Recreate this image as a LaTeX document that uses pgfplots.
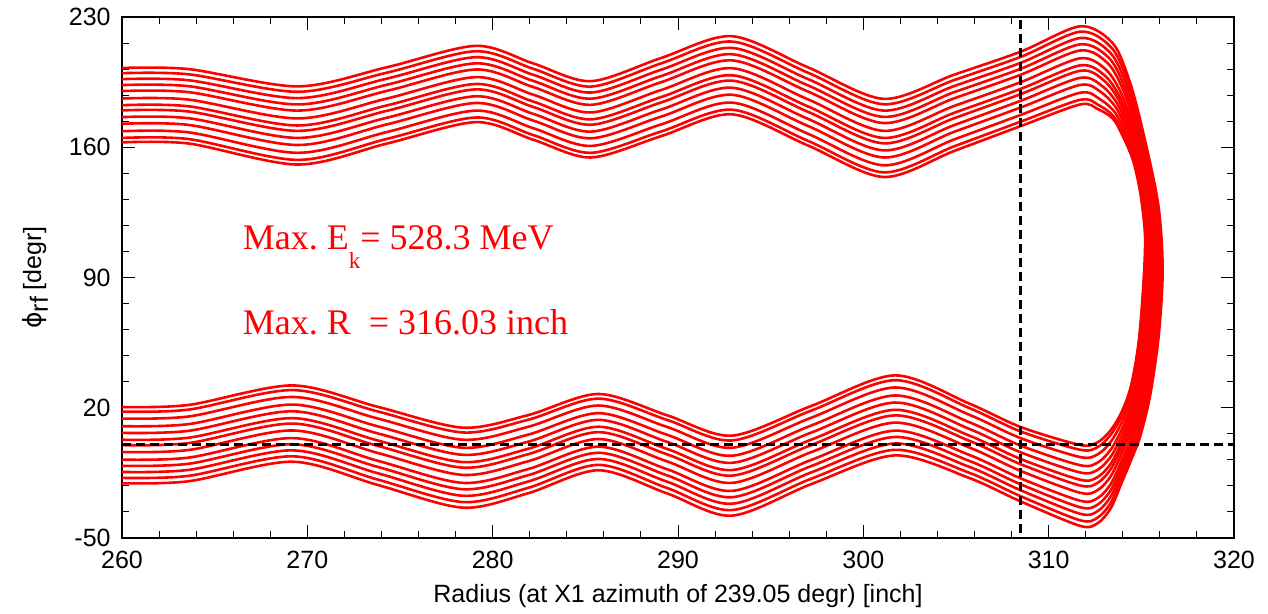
\documentclass[border=0pt]{standalone}
\usepackage{fontspec}
\setmainfont{Liberation Sans}
\newfontfamily\seriffont{Liberation Serif}
\newfontfamily\dejavu{DejaVu Sans}
\usepackage{pgfplots}
\pgfplotsset{compat=1.18}
\usetikzlibrary{calc}
\pgfplotsset{traj/.style={red, line width=1.3pt, smooth, tension=0.5, mark=none}}
\begin{document}
\begin{tikzpicture}
\begin{axis}[
  scale only axis, width=556pt, height=260.5pt,
  xmin=260, xmax=320, ymin=-50, ymax=230,
  xtick={260,270,...,320}, ytick={-50,20,90,160,230},
  minor x tick num=4, minor y tick num=4,
  tick align=inside, major tick length=6.3pt, minor tick length=3.5pt,
  tick style={black, line width=0.5pt},
  axis line style={line width=0.6pt},
  /pgf/number format/assume math mode=true,
  /pgf/number format/1000 sep={},
  ticklabel style={font=\fontsize{12.5}{14}\selectfont},
  xticklabel style={anchor=base, yshift=-15.5pt},
  yticklabel style={anchor=east, inner sep=0pt, xshift=-5.5pt},
  xlabel={Radius (at X1 azimuth of 239.05 degr) [inch]},
  ylabel={{\dejavu ϕ}\raisebox{-0.5ex}{rf} [degr]},
  label style={font=\fontsize{12.5}{14}\selectfont},
  xlabel style={at={(axis description cs:0.5,0)}, anchor=base, yshift=-32.5pt},
  ylabel style={at={(axis description cs:0,0.5)}, anchor=center, yshift=43.5pt},
]
% k=0 (innermost)
\addplot[traj] coordinates {(260,20.4)(263.6,21.5)(269.2,32)(273.8,20.5)(278.4,9.3)(281.9,16)(285.7,27.4)(289.4,16)(292.9,5)(297.2,21)(301.7,37.4)(305.7,22.3)(308.5,9.6)(311.7,0)
(312.65,1.5)(313.35,8)(313.95,18)(314.45,32)(314.85,55)(315.1,85)(315.2,112)(314.95,135)(314.55,153)(313.95,167)(313.45,175.5)(312.65,180.5)
(311.7,183)(308.5,171.4)(304.9,158)(301.1,144)(297.0,161)(292.9,177.7)(289.1,166)(285.3,154.5)(282.2,164)(279.1,173.5)(274.3,162)(269.5,150.7)(263.6,162)(260,162.6)};
% k=1
\addplot[traj] coordinates {(260,17.9)(263.6,19.0)(269.2,29.5)(273.8,18.0)(278.4,6.7)(281.9,13.5)(285.7,24.9)(289.4,13.5)(292.9,2.4)(297.2,18.5)(301.7,34.8)(305.7,19.9)(308.5,7.2)(311.7,-2.6)
(312.65,-1.1)(313.35,5.5)(313.95,15.7)(314.45,29.6)(314.86,52)(315.12,81.6)(315.25,108.9)(315.02,132.6)(314.63,151.6)(314.02,167.2)(313.5,176.7)(312.7,182.6)
(311.7,185.5)(308.5,173.8)(304.9,160.5)(301.1,146.5)(297.0,163.5)(292.9,180.2)(289.1,168.5)(285.3,157)(282.2,166.5)(279.1,176)(274.3,164.5)(269.5,153.2)(263.6,164.4)(260,165)};
% k=2
\addplot[traj] coordinates {(260,14.2)(263.6,15.3)(269.2,25.8)(273.8,14.2)(278.4,2.8)(281.9,9.7)(285.7,21.2)(289.4,9.7)(292.9,-1.5)(297.2,14.7)(301.7,30.9)(305.7,16.3)(308.5,3.6)(311.7,-6.5)
(312.65,-5)(313.35,1.7)(313.95,12.3)(314.45,26)(314.87,47.5)(315.16,76.4)(315.31,104.2)(315.13,129)(314.75,149.5)(314.12,167.5)(313.59,178.6)(312.77,185.8)
(311.7,189.3)(308.5,177.4)(304.9,164.2)(301.1,150.3)(297.0,167.3)(292.9,184)(289.1,172.3)(285.3,160.7)(282.2,170.2)(279.1,179.7)(274.3,168.2)(269.5,157)(263.6,168)(260,168.6)};
% k=3
\addplot[traj] coordinates {(260,10.1)(263.6,11.2)(269.2,21.7)(273.8,10.0)(278.4,-1.5)(281.9,5.5)(285.7,17.1)(289.4,5.5)(292.9,-5.8)(297.2,10.5)(301.7,26.6)(305.7,12.3)(308.5,-0.4)(311.7,-10.9)
(312.65,-9.4)(313.35,-2.5)(313.95,8.5)(314.45,22)(314.88,42.5)(315.2,70.7)(315.39,99)(315.25,125)(314.89,147.2)(314.23,167.8)(313.68,180.6)(312.85,189.4)
(311.7,193.5)(308.5,181.4)(304.9,168.3)(301.1,154.5)(297.0,171.5)(292.9,188.2)(289.1,176.5)(285.3,164.8)(282.2,174.3)(279.1,183.8)(274.3,172.3)(269.5,161.2)(263.6,172)(260,172.6)};
% k=4
\addplot[traj] coordinates {(260,6.5)(263.6,7.6)(269.2,18.1)(273.8,6.2)(278.4,-5.3)(281.9,1.7)(285.7,13.5)(289.4,1.7)(292.9,-9.6)(297.2,6.7)(301.7,22.8)(305.7,8.7)(308.5,-4)(311.7,-14.8)
(312.65,-13.3)(313.35,-6.3)(313.95,5.1)(314.45,18.4)(314.88,38)(315.24,65.6)(315.46,94.3)(315.36,121.4)(315.01,145.2)(314.32,168)(313.76,182.5)(312.92,192.6)
(311.7,197.3)(308.5,185)(304.9,171.9)(301.1,158.3)(297.0,175.3)(292.9,192)(289.1,180.3)(285.3,168.4)(282.2,177.9)(279.1,187.4)(274.3,175.9)(269.5,165)(263.6,175.6)(260,176.2)};
% k=5
\addplot[traj] coordinates {(260,2.8)(263.6,3.9)(269.2,14.4)(273.8,2.4)(278.4,-9.2)(281.9,-2.1)(285.7,9.8)(289.4,-2.1)(292.9,-13.5)(297.2,2.9)(301.7,18.9)(305.7,5.1)(308.5,-7.6)(311.7,-18.7)
(312.65,-17.2)(313.35,-10.1)(313.95,1.7)(314.45,14.8)(314.89,33.5)(315.27,60.5)(315.52,89.6)(315.47,117.8)(315.13,143.1)(314.42,168.3)(313.84,184.3)(312.99,195.8)
(311.7,201.1)(308.5,188.6)(304.9,175.6)(301.1,162.1)(297.0,179.1)(292.9,195.8)(289.1,184.1)(285.3,172.1)(282.2,181.6)(279.1,191.1)(274.3,179.6)(269.5,168.8)(263.6,179.2)(260,179.8)};
% k=6
\addplot[traj] coordinates {(260,-0.1)(263.6,1.0)(269.2,11.5)(273.8,-0.5)(278.4,-12.2)(281.9,-5)(285.7,6.9)(289.4,-5)(292.9,-16.5)(297.2,0)(301.7,15.9)(305.7,2.3)(308.5,-10.4)(311.7,-21.8)
(312.65,-20.3)(313.35,-13)(313.95,-1)(314.45,12)(314.9,30)(315.3,56.5)(315.58,86)(315.55,115)(315.23,141.5)(314.5,168.5)(313.9,185.8)(313.05,198.3)
(311.7,204)(308.5,191.4)(304.9,178.5)(301.1,165)(297.0,182)(292.9,198.7)(289.1,187)(285.3,175)(282.2,184.5)(279.1,194)(274.3,182.5)(269.5,171.7)(263.6,182)(260,182.6)};
% k=7
\addplot[traj] coordinates {(260,-3.8)(263.6,-2.7)(269.2,7.8)(273.8,-4.3)(278.4,-16.1)(281.9,-8.8)(285.7,3.2)(289.4,-8.8)(292.9,-20.4)(297.2,-3.8)(301.7,12)(305.7,-1.3)(308.5,-14)(311.7,-25.7)
(312.65,-24.2)(313.35,-16.8)(313.95,-4.4)(314.45,8.4)(314.91,25.5)(315.34,51.4)(315.64,81.3)(315.66,111.4)(315.35,139.4)(314.6,168.8)(313.98,187.6)(313.12,201.4)
(311.7,207.8)(308.5,195)(304.9,182.2)(301.1,168.8)(297.0,185.8)(292.9,202.5)(289.1,190.8)(285.3,178.7)(282.2,188.2)(279.1,197.7)(274.3,186.2)(269.5,175.5)(263.6,185.6)(260,186.2)};
% k=8
\addplot[traj] coordinates {(260,-7.9)(263.6,-6.8)(269.2,3.7)(273.8,-8.5)(278.4,-20.4)(281.9,-13)(285.7,-0.9)(289.4,-13)(292.9,-24.7)(297.2,-8)(301.7,7.7)(305.7,-5.3)(308.5,-18)(311.7,-30)
(312.65,-28.5)(313.35,-21)(313.95,-8.2)(314.45,4.4)(314.92,20.5)(315.38,45.7)(315.72,76.1)(315.78,107.4)(315.48,137.1)(314.71,169.1)(314.07,189.6)(313.2,205)
(311.7,212)(308.5,199)(304.9,186.3)(301.1,173)(297.0,190)(292.9,206.7)(289.1,195)(285.3,182.8)(282.2,192.3)(279.1,201.8)(274.3,190.3)(269.5,179.7)(263.6,189.6)(260,190.2)};
% k=9
\addplot[traj] coordinates {(260,-11.2)(263.6,-10.1)(269.2,0.4)(273.8,-11.8)(278.4,-23.8)(281.9,-16.3)(285.7,-4.2)(289.4,-16.3)(292.9,-28.1)(297.2,-11.3)(301.7,4.3)(305.7,-8.5)(308.5,-21.2)(311.7,-33.5)
(312.65,-32)(313.35,-24.3)(313.95,-11.3)(314.45,1.2)(314.93,16.5)(315.41,41.1)(315.78,72)(315.87,104.2)(315.59,135.3)(314.8,169.3)(314.14,191.3)(313.27,207.8)
(311.7,215.3)(308.5,202.2)(304.9,189.6)(301.1,176.3)(297.0,193.3)(292.9,210)(289.1,198.3)(285.3,186.1)(282.2,195.6)(279.1,205.1)(274.3,193.6)(269.5,183)(263.6,192.8)(260,193.4)};
% k=10
\addplot[traj] coordinates {(260,-14.5)(263.6,-13.4)(269.2,-2.9)(273.8,-15.2)(278.4,-27.3)(281.9,-19.7)(285.7,-7.5)(289.4,-19.7)(292.9,-31.6)(297.2,-14.7)(301.7,0.8)(305.7,-11.7)(308.5,-24.4)(311.7,-37)
(312.65,-35.5)(313.35,-27.7)(313.95,-14.3)(314.45,-2)(314.94,12.5)(315.44,36.5)(315.84,67.8)(315.97,101)(315.7,133.4)(314.89,169.6)(314.22,192.9)(313.33,210.7)
(311.7,218.7)(308.5,205.4)(304.9,192.9)(301.1,179.7)(297.0,196.7)(292.9,213.4)(289.1,201.7)(285.3,189.4)(282.2,198.9)(279.1,208.4)(274.3,196.9)(269.5,186.4)(263.6,196)(260,196.6)};
% k=11
\addplot[traj] coordinates {(260,-17.7)(263.6,-16.6)(269.2,-6.1)(273.8,-18.6)(278.4,-30.7)(281.9,-23.1)(285.7,-10.7)(289.4,-23.1)(292.9,-35)(297.2,-18.1)(301.7,-2.6)(305.7,-14.9)(308.5,-27.6)(311.7,-40.5)
(312.65,-39)(313.35,-31.1)(313.95,-17.3)(314.45,-5.2)(314.94,8.5)(315.47,32)(315.9,63.6)(316.07,97.8)(315.81,131.6)(314.97,169.8)(314.29,194.6)(313.39,213.5)
(311.7,222.1)(308.5,208.6)(304.9,196.1)(301.1,183.1)(297.0,200.1)(292.9,216.8)(289.1,205.1)(285.3,192.6)(282.2,202.1)(279.1,211.6)(274.3,200.1)(269.5,189.8)(263.6,199.2)(260,199.8)};
% k=12 (outermost)
\addplot[traj] coordinates {(260,-20.6)(263.6,-19.5)(269.2,-9)(273.8,-21.5)(278.4,-33.7)(281.9,-26)(285.7,-13.6)(289.4,-26)(292.9,-38)(297.2,-21)(301.7,-5.6)(305.7,-17.7)(308.5,-30.4)(311.7,-43.5)
(312.65,-42)(313.35,-34)(313.95,-20)(314.45,-8)(314.95,5)(315.5,28)(315.95,60)(316.15,95)(315.9,130)(315.05,170)(314.35,196)(313.45,216)
(311.7,225)(308.5,211.4)(304.9,199)(301.1,186)(297.0,203)(292.9,219.7)(289.1,208)(285.3,195.5)(282.2,205)(279.1,214.5)(274.3,203)(269.5,192.7)(263.6,202)(260,202.6)};
% dashed reference lines
\addplot[black, line width=1.5pt, dash pattern=on 4.5pt off 2.5pt, sharp plot, mark=none] coordinates {(260,0)(320,0)};
\addplot[black, line width=1.5pt, dash pattern=on 4.5pt off 2.5pt, sharp plot, mark=none] coordinates {(308.5,-47.5)(308.5,230)};
% annotations
\node[anchor=base west, text=red, inner sep=0pt, font=\seriffont\fontsize{18}{20}\selectfont] at (axis cs:266.5,105.3) {Max.\ E\raisebox{-9.5pt}{\fontsize{11.5}{12}\selectfont k}= 528.3 MeV};
\node[anchor=base west, text=red, inner sep=0pt, font=\seriffont\fontsize{18}{20}\selectfont] at (axis cs:266.5,59.1) {Max.\ R\ \ = 316.03 inch};
\end{axis}
\pgfresetboundingbox
\path ($(current axis.south west)+(-61pt,-38pt)$) rectangle ($(current axis.north east)+(17pt,8.5pt)$);
\end{tikzpicture}
\end{document}
